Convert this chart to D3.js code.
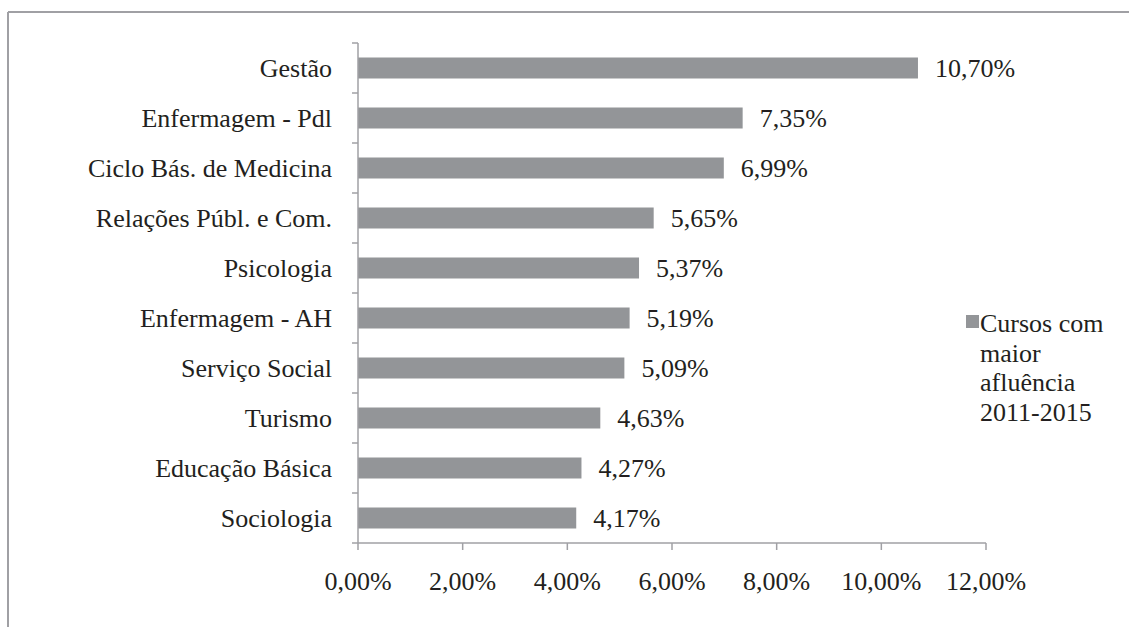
<!DOCTYPE html>
<html>
<head>
<meta charset="utf-8">
<script src="https://cdn.jsdelivr.net/npm/d3@7"></script>
<style>
  body { margin: 0; background: #fff; }
  svg { display: block; }
</style>
</head>
<body>
<svg id="chart" width="1129" height="627"></svg>
<script>
// data
const categories = ["Gestão", "Enfermagem - Pdl", "Ciclo Bás. de Medicina", "Relações Públ. e Com.",
  "Psicologia", "Enfermagem - AH", "Serviço Social", "Turismo", "Educação Básica", "Sociologia"];
const values = [10.70, 7.35, 6.99, 5.65, 5.37, 5.19, 5.09, 4.63, 4.27, 4.17];
const xTicks = [0, 2, 4, 6, 8, 10, 12];
const legendLines = ["Cursos com", "maior", "afluência", "2011-2015"];

const data = categories.map((c, i) => ({ name: c, value: values[i] }));

const svg = d3.select("#chart");
const font = '"Liberation Serif", "Times New Roman", serif';
const fontSize = 26;
const ink = "#231f20";
const axisGray = "#a0a0a4";
const fmt = v => v.toFixed(2).replace(".", ",") + "%";

// frame
svg.append("line").attr("x1", 8).attr("x2", 8).attr("y1", 12).attr("y2", 627)
  .attr("stroke", axisGray).attr("stroke-width", 2);
svg.append("line").attr("x1", 8).attr("x2", 1129).attr("y1", 12).attr("y2", 12)
  .attr("stroke", axisGray).attr("stroke-width", 2);

const x = d3.scaleLinear().domain([0, 12]).range([358, 986]);
const y = d3.scaleBand().domain(categories).range([43, 543]).paddingInner(0.58).paddingOuter(0.29);

//BARS
svg.selectAll(".bar").data(data).enter().append("rect")
  .attr("class", "bar")
  .attr("x", x(0))
  .attr("y", d => y(d.name))
  .attr("width", d => x(d.value) - x(0))
  .attr("height", y.bandwidth())
  .attr("fill", "#939598");

//VALUE LABELS
svg.selectAll(".val").data(data).enter().append("text")
  .attr("class", "val")
  .attr("x", d => x(d.value) + 17)
  .attr("y", d => y(d.name) + y.bandwidth() / 2)
  .attr("dy", "0.35em")
  .style("font-family", font)
  .style("font-size", fontSize + "px")
  .attr("fill", ink)
  .text(d => fmt(d.value));

//Y AXIS
const yAxis = svg.append("g");
yAxis.append("line").attr("x1", x(0)).attr("x2", x(0)).attr("y1", 43).attr("y2", 543)
  .attr("stroke", axisGray).attr("stroke-width", 1.5);
const catTicks = d3.range(categories.length + 1).map(i => 43 + i * 50);
yAxis.selectAll(".ytick").data(catTicks).enter().append("line")
  .attr("x1", x(0) - 6).attr("x2", x(0)).attr("y1", d => d).attr("y2", d => d)
  .attr("stroke", axisGray).attr("stroke-width", 1.5);
yAxis.selectAll(".ylab").data(categories).enter().append("text")
  .attr("x", 332)
  .attr("y", d => y(d) + y.bandwidth() / 2)
  .attr("dy", "0.35em")
  .attr("text-anchor", "end")
  .style("font-family", font)
  .style("font-size", fontSize + "px")
  .attr("fill", ink)
  .text(d => d);

//X AXIS
const xAxis = svg.append("g");
xAxis.append("line").attr("x1", x(0)).attr("x2", x(12)).attr("y1", 543).attr("y2", 543)
  .attr("stroke", axisGray).attr("stroke-width", 1.5);
xAxis.selectAll(".xtick").data(xTicks).enter().append("line")
  .attr("x1", d => x(d)).attr("x2", d => x(d)).attr("y1", 543).attr("y2", 550)
  .attr("stroke", axisGray).attr("stroke-width", 1.5);
xAxis.selectAll(".xlab").data(xTicks).enter().append("text")
  .attr("x", d => x(d))
  .attr("y", 590)
  .attr("text-anchor", "middle")
  .style("font-family", font)
  .style("font-size", fontSize + "px")
  .attr("fill", ink)
  .text(d => fmt(d));

//LEGEND
const legend = svg.append("g");
legend.append("rect").attr("x", 966).attr("y", 315).attr("width", 13).attr("height", 13)
  .attr("fill", "#939598");
legend.selectAll("text").data(legendLines).enter().append("text")
  .attr("x", 980)
  .attr("y", (d, i) => 332 + i * 29.7)
  .style("font-family", font)
  .style("font-size", fontSize + "px")
  .attr("fill", ink)
  .text(d => d);
</script>
</body>
</html>
